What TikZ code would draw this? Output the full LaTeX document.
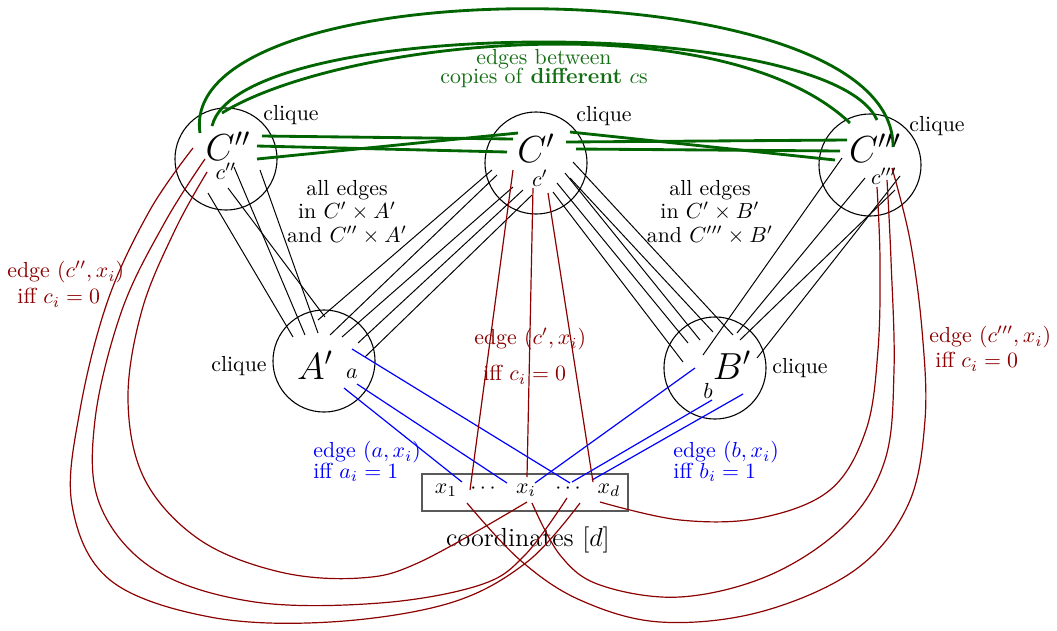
\documentclass[tikz,border=0pt]{standalone}
\usetikzlibrary{calc}
\definecolor{dred}{RGB}{139,0,0}
\definecolor{dgreen}{RGB}{0,100,0}
\definecolor{tgreen}{RGB}{20,110,20}
\begin{document}
\begin{tikzpicture}[x=0.4587pt,y=-0.4587pt,
  vset/.style={circle,draw,line width=0.5pt,minimum size=46.8pt,inner sep=0pt},
  biglab/.style={font=\LARGE,inner sep=0pt},
  lab/.style={inner sep=0pt},
  blk/.style={black,line width=0.45pt},
  redl/.style={dred,line width=0.55pt},
  blul/.style={blue,line width=0.55pt},
  grnl/.style={dgreen,line width=1.3pt},
  redtext/.style={dred,inner sep=0pt,align=left,anchor=north west},
  blutext/.style={blue,inner sep=0pt,align=left,anchor=north west},
  midtext/.style={inner sep=0pt,align=center},
]
\useasboundingbox (0,0) rectangle (1057,630);

% vertex sets
\node[vset] (Cpp) at (226,159) {};
\node[vset] (Cp) at (536,163) {};
\node[vset] (Cppp) at (870,165) {};
\node[vset] (Ap) at (324,361) {};
\node[vset] (Bp) at (715,368) {};
\node[draw=black!65,line width=0.6pt,minimum width=94.5pt,minimum height=17pt,inner sep=0pt] (box) at (525,492.5) {};

% labels in sets
\node[biglab] (tCpp) at (228,146) {$C''$};
\node[lab] (sCpp) at (226,171) {$c''$};
\node[biglab] (tCp) at (536,148) {$C'$};
\node[lab] (sCp) at (540,178) {$c'$};
\node[biglab] (tCppp) at (875,148) {$C'''$};
\node[lab] (sCppp) at (884,176) {$c'''$};
\node[biglab] (tAp) at (315,365) {$A'$};
\node[lab] (sAp) at (352,374) {$a$};
\node[biglab] (tBp) at (732,365) {$B'$};
\node[lab] (sBp) at (708,391) {$b$};

% clique labels
\node[lab] (qCpp) at (291,115) {clique};
\node[lab] (qCp) at (604,116) {clique};
\node[lab] (qCppp) at (937,126) {clique};
\node[lab] (qAp) at (239,366) {clique};
\node[lab] (qBp) at (800,368) {clique};

% coordinates
\node[lab,anchor=base] (x1) at (446,493) {$x_1$};
\node[lab,anchor=base] (d1) at (483,493) {$\cdots$};
\node[lab,anchor=base] (xi) at (526,493) {$x_i$};
\node[lab,anchor=base] (d2) at (568,493) {$\cdots$};
\node[lab,anchor=base] (xd) at (609,493) {$x_d$};
\node[lab,font=\large] (coordlab) at (528,540) {coordinates $[d]$};

% green edges
\draw[grnl] ($(Cpp)+(36,-23)$) -- ($(Cp)+(-23,-24)$);
\draw[grnl] ($(Cpp)+(31,-13)$) -- ($(Cp)+(-29,-11)$);
\draw[grnl] ($(Cpp)+(31,0)$) -- ($(Cp)+(-18,-30)$);
\draw[grnl] ($(Cp)+(34,-31)$) -- ($(Cppp)+(-35,-5)$);
\draw[grnl] ($(Cp)+(30,-21)$) -- ($(Cppp)+(-23,-25)$);
\draw[grnl] ($(Cp)+(40,-14)$) -- ($(Cppp)+(-30,-14)$);
\draw[grnl] ($(Cpp)+(-26,-26)$) .. controls (175,-35) and (895,-35) .. ($(Cppp)+(23,-18)$);
\draw[grnl] ($(Cpp)+(-14,-33)$) .. controls (240,15) and (830,15) .. ($(Cppp)+(7,-45)$);
\draw[grnl] ($(Cpp)+(-4,-46)$) .. controls (340,40) and (720,0) .. ($(Cppp)+(-20,-42)$);

% black edges C'' -- A'
\draw[blk] ($(Cpp)+(-18,34)$) -- ($(Ap)+(-31,-24)$);
\draw[blk] ($(Cpp)+(2,29)$) -- ($(Ap)+(1,-44)$);
\draw[blk] ($(Cpp)+(8,8)$) -- ($(Ap)+(-19,-26)$);
\draw[blk] ($(Cpp)+(34,11)$) -- ($(Ap)+(-6,-28)$);
% C' -- A'
\draw[blk] ($(Cp)+(-44,7)$) -- ($(Ap)+(-6,-41)$);
\draw[blk] ($(Cp)+(-39,12)$) -- ($(Ap)+(6,-26)$);
\draw[blk] ($(Cp)+(-23,24)$) -- ($(Ap)+(18,-24)$);
\draw[blk] ($(Cp)+(-13,27)$) -- ($(Ap)+(34,-18)$);
\draw[blk] ($(Cp)+(-4,32)$) -- ($(Ap)+(41,-4)$);
% C' -- B'
\draw[blk] ($(Cp)+(17,29)$) -- ($(Bp)+(-32,-6)$);
\draw[blk] ($(Cp)+(21,20)$) -- ($(Bp)+(-27,-25)$);
\draw[blk] ($(Cp)+(29,10)$) -- ($(Bp)+(-15,-28)$);
\draw[blk] ($(Cp)+(34,15)$) -- ($(Bp)+(-2,-36)$);
\draw[blk] ($(Cp)+(37,-1)$) -- ($(Bp)+(18,-33)$);
% C''' -- B'
\draw[blk] ($(Cppp)+(-28,-7)$) -- ($(Bp)+(-12,-13)$);
\draw[blk] ($(Cppp)+(-5,13)$) -- ($(Bp)+(22,-35)$);
\draw[blk] ($(Cppp)+(30,11)$) -- ($(Bp)+(42,-10)$);
\draw[blk] ($(Cppp)+(25,25)$) -- ($(Bp)+(25,-28)$);

% blue edges
\draw[blul] ($(Ap)+(28,-12)$) -- ($(box)+(45,-9.5)$);
\draw[blul] ($(Ap)+(33,23)$) -- ($(box)+(-18,-9.5)$);
\draw[blul] ($(Ap)+(20,27)$) -- ($(box)+(-63,-10.5)$);
\draw[blul] ($(Bp)+(-20,0)$) -- ($(box)+(10,-9.5)$);
\draw[blul] ($(Bp)+(-3,32)$) -- ($(box)+(47,-10.5)$);
\draw[blul] ($(Bp)+(28,26)$) -- ($(box)+(67,-12.5)$);

% red edges C' -- coordinates
\draw[redl] ($(Cp)+(-23,7)$) -- ($(box)+(-55,-2.5)$);
\draw[redl] ($(Cp)+(-3,25)$) -- ($(box)+(2,-15.5)$);
\draw[redl] ($(Cp)+(12,30)$) -- ($(box)+(68,-10.5)$);

% red curves endpoints
\coordinate (ra1) at ($(Cpp)+(-33,-11)$);
\coordinate (ra2) at ($(Cpp)+(-21,0)$);
\coordinate (ra3) at ($(Cpp)+(-19,13)$);
\coordinate (rb1) at ($(box)+(2,9.5)$);
\coordinate (rb2) at ($(box)+(42,5.5)$);
\coordinate (rb3) at ($(box)+(55,10.5)$);
\coordinate (rc1) at ($(Cppp)+(7,22)$);
\coordinate (rc2) at ($(Cppp)+(17,15)$);
\coordinate (rc3) at ($(Cppp)+(22,3)$);
\coordinate (rd1) at ($(box)+(75,9.5)$);
\coordinate (rd2) at ($(box)+(7,10.5)$);
\coordinate (rd3) at ($(box)+(-58,10.5)$);

\draw[redl] plot[smooth,tension=0.6] coordinates {(ra1) (150,210) (108,300) (80,410) (72,505) (110,580) (210,617) (330,622) (450,603) (527,562) (rb3)};
\draw[redl] plot[smooth,tension=0.6] coordinates {(ra2) (165,222) (122,310) (95,420) (100,505) (155,570) (255,602) (380,603) (480,585) (525,555) (rb2)};
\draw[redl] plot[smooth,tension=0.6] coordinates {(ra3) (175,230) (142,310) (128,400) (145,480) (200,540) (280,572) (360,578) (420,562) (rb1)};
\draw[redl] plot[smooth,tension=0.6] coordinates {(rc1) (880,260) (878,350) (866,430) (830,490) (760,518) (680,520) (rd1)};
\draw[redl] plot[smooth,tension=0.6] coordinates {(rc2) (891,260) (894,370) (885,460) (845,525) (770,575) (680,597) (600,585) (560,555) (rd2)};
\draw[redl] plot[smooth,tension=0.6] coordinates {(rc3) (910,240) (922,330) (925,420) (908,505) (855,570) (760,612) (660,622) (580,600) (520,560) (rd3)};

% text labels
\node[midtext,text=tgreen] (gtext) at (544,69) {edges between\\[-3.3pt] copies of \textbf{different} $c$s};
\node[midtext] (ltext) at (347,212) {all edges\\[-1.2pt] in $C'\times A'$\\[-1.2pt] and $C''\times A'$};
\node[midtext] (rtext) at (710,212) {all edges\\[-1.2pt] in $C'\times B'$\\[-1.2pt] and $C'''\times B'$};
\node[redtext] (rl1) at (7,261) {edge $(c'',x_i)$\\ \hspace*{4.6pt}iff $c_i=0$};
\node[redtext] (rl2) at (474,328) {edge $(c',x_i)$\\[4.5pt] \hspace*{4.1pt}iff $c_i=0$};
\node[redtext] (rl3) at (929,326) {edge $(c''',x_i)$\\[-0.5pt] \hspace*{2.75pt}iff $c_i=0$};
\node[blutext] (bl1) at (313,441) {edge $(a,x_i)$\\[-2.4pt] iff $a_i=1$};
\node[blutext] (bl2) at (673,441) {edge $(b,x_i)$\\[-2.4pt] iff $b_i=1$};
\end{tikzpicture}
\end{document}
